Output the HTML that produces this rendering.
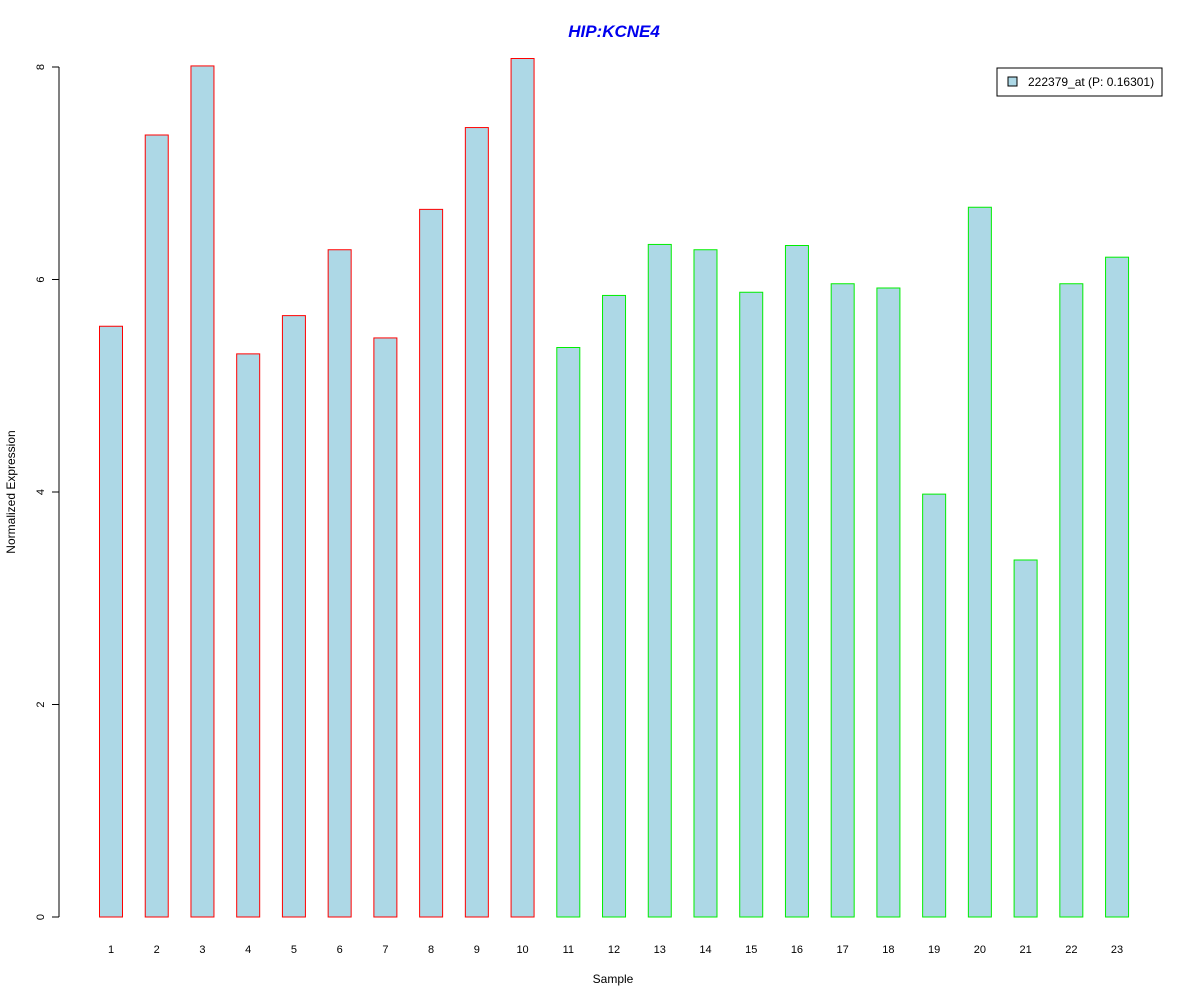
<!DOCTYPE html>
<html><head><meta charset="utf-8"><style>body{margin:0;background:#fff}svg{display:block;font-family:"Liberation Sans",Arial,sans-serif}</style></head>
<body>
<svg id="chart" width="1200" height="1000">
<rect width="1200" height="1000" fill="#fff"/>
<text x="614" y="37" text-anchor="middle" font-size="17" font-weight="bold" font-style="italic" fill="#0000ee">HIP:KCNE4</text>
<g id="bars"></g>
<g id="yaxis"></g>
<g id="xlabels"></g>
<text x="613" y="983" text-anchor="middle" font-size="12">Sample</text>
<text transform="translate(15,492) rotate(-90)" text-anchor="middle" font-size="12">Normalized Expression</text>
<g>
<rect x="997" y="68" width="165" height="28" fill="#fff" stroke="#000"/>
<rect x="1008" y="77" width="9" height="9" fill="#add8e6" stroke="#000"/>
<text x="1028" y="86" font-size="12">222379_at (P: 0.16301)</text>
</g>
</svg>
<script>
const categories=["1","2","3","4","5","6","7","8","9","10","11","12","13","14","15","16","17","18","19","20","21","22","23"];
const values=[5.56,7.36,8.01,5.30,5.66,6.28,5.45,6.66,7.43,8.08,5.36,5.85,6.33,6.28,5.88,6.32,5.96,5.92,3.98,6.68,3.36,5.96,6.21];
const groups=["r","r","r","r","r","r","r","r","r","r","g","g","g","g","g","g","g","g","g","g","g","g","g"];
const yTicks=[0,2,4,6,8];
const NS="http://www.w3.org/2000/svg";
const y=v=>917-v*106.25;
const x=i=>111+i*45.73;
const bw=23;
function mk(t,a,p){const e=document.createElementNS(NS,t);for(const k in a)e.setAttribute(k,a[k]);p.appendChild(e);return e;}
const bars=document.getElementById('bars');
values.forEach((v,i)=>{
 const r=mk('rect',{x:x(i)-bw/2,y:y(v),width:bw,height:y(0)-y(v),fill:'#add8e6',stroke:groups[i]==='r'?'#ff0000':'#00ee00'},bars);
 
 
});
const xl=document.getElementById('xlabels');
categories.forEach((c,i)=>{
 const t=mk('text',{x:x(i),y:953,'text-anchor':'middle','font-size':11},xl);t.textContent=c;
 
 
});
const ya=document.getElementById('yaxis');
mk('line',{x1:59,x2:59,y1:y(yTicks[0]),y2:y(yTicks[yTicks.length-1]),stroke:'#000'},ya);
yTicks.forEach(v=>{
 mk('line',{x1:52,x2:59,y1:y(v),y2:y(v),stroke:'#000'},ya);
 const t=mk('text',{transform:`translate(44,${y(v)}) rotate(-90)`,'text-anchor':'middle','font-size':11},ya);t.textContent=v;
 
 
});
</script>
</body></html>
